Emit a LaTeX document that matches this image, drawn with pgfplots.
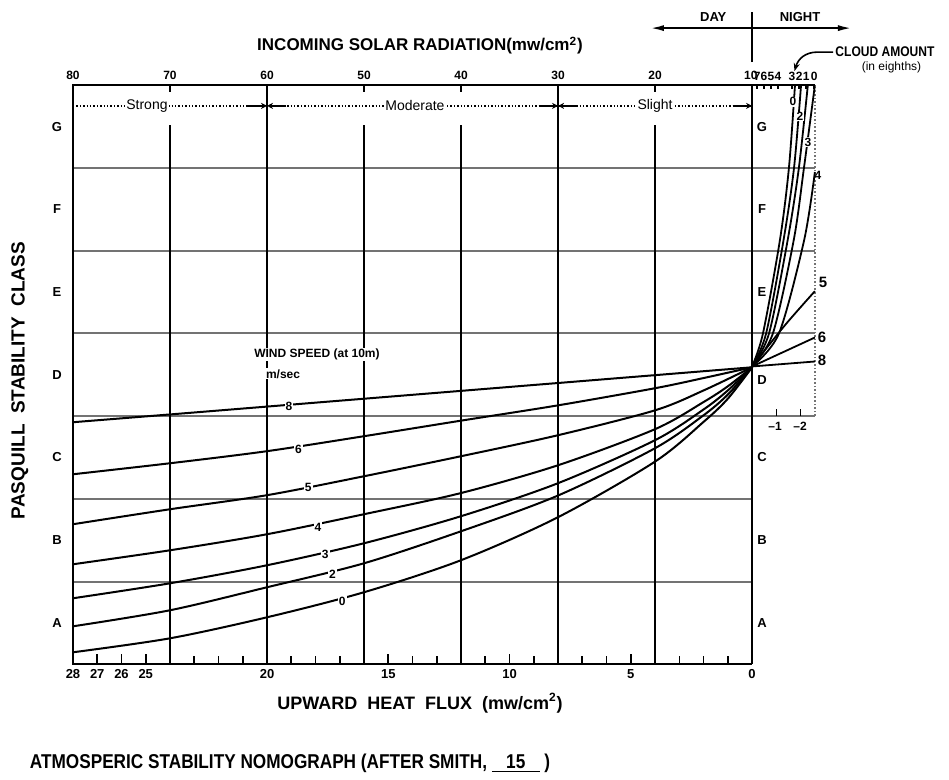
\documentclass[border=0pt]{standalone}
\usepackage{pgfplots}
\pgfplotsset{compat=1.18}
\usepackage{fontspec}
\setmainfont{Liberation Sans}
\newfontfamily\narrow[FakeStretch=0.86]{Liberation Sans}
\usetikzlibrary{arrows.meta}

\newcommand{\tk}{\fontsize{6}{7}\selectfont}
\newcommand{\cls}{\fontsize{6.5}{7}\selectfont\bfseries}

\begin{document}
\begin{tikzpicture}
\begin{axis}[
  scale only axis, width=371pt, height=289.5pt,
  xmin=-2.6, xmax=28, ymin=0, ymax=7, x dir=reverse,
  axis line style={draw=none},
  xtick={0,5,10,15,20,25,26,27,28},
  minor xtick={1,2,3,4,6,7,8,9,11,12,13,14,16,17,18,19,21,22,23,24},
  xtick pos=left, xtick align=inside,
  major tick length=5pt, minor tick length=4pt,
  tick style={black, line width=0.8pt},
  ytick=\empty,
  xticklabel style={font=\fontsize{6.5}{7}\selectfont\bfseries, yshift=1pt},
  /pgf/number format/assume math mode=true,
  clip=false,
]
% page size
\path (axis cs:31.01,-1.33) rectangle (axis cs:-8.12,8.03);

% class boundaries
\pgfplotsinvokeforeach{1,2}{\draw[black!55, line width=1pt] (axis cs:28,#1) -- (axis cs:0,#1);}
\pgfplotsinvokeforeach{3,4,5,6}{\draw[black!55, line width=1pt] (axis cs:28,#1) -- (axis cs:-2.6,#1);}

% frame
\draw[line width=1.1pt] (axis cs:-2.6,7) -- (axis cs:28,7) -- (axis cs:28,0) -- (axis cs:0,0);
\draw[line width=1.3pt] (axis cs:0,0) -- (axis cs:0,7);
\draw[line width=1.3pt] (axis cs:0,7.28) -- (axis cs:0,7.88);
\draw[black!55, densely dotted, line width=0.8pt] (axis cs:-2.6,3) -- (axis cs:-2.6,7);

% solar radiation grid
\pgfplotsinvokeforeach{24,16,12,4}{
  \draw[line width=1.2pt] (axis cs:#1,0) -- (axis cs:#1,6.52);
  \draw[line width=1pt] (axis cs:#1,7) -- (axis cs:#1,6.92);}
\pgfplotsinvokeforeach{20,8}{\draw[line width=1.2pt] (axis cs:#1,0) -- (axis cs:#1,7);}

% top scale
\node[font=\tk\bfseries] at (axis cs:28,7.12) {80};
\node[font=\tk\bfseries] at (axis cs:24,7.12) {70};
\node[font=\tk\bfseries] at (axis cs:20,7.12) {60};
\node[font=\tk\bfseries] at (axis cs:16,7.12) {50};
\node[font=\tk\bfseries] at (axis cs:12,7.12) {40};
\node[font=\tk\bfseries] at (axis cs:8,7.12) {30};
\node[font=\tk\bfseries] at (axis cs:4,7.12) {20};
\node[font=\tk\bfseries, fill=white, inner sep=0.3pt] at (axis cs:0.05,7.12) {10};

% cloud amount scale
\pgfplotsinvokeforeach{-0.21,-0.49,-0.78,-1.07,-1.65,-1.94,-2.23,-2.56}{
  \draw[line width=0.9pt] (axis cs:#1,7) -- (axis cs:#1,6.95);}
\node[font=\tk\bfseries] at (axis cs:-0.21,7.11) {7};
\node[font=\tk\bfseries] at (axis cs:-0.49,7.11) {6};
\node[font=\tk\bfseries] at (axis cs:-0.78,7.11) {5};
\node[font=\tk\bfseries] at (axis cs:-1.07,7.11) {4};
\node[font=\tk\bfseries] at (axis cs:-1.65,7.11) {3};
\node[font=\tk\bfseries] at (axis cs:-1.94,7.11) {2};
\node[font=\tk\bfseries] at (axis cs:-2.23,7.11) {1};
\node[font=\tk\bfseries] at (axis cs:-2.56,7.11) {0};

% night heat flux ticks
\draw[line width=0.8pt] (axis cs:-1,3) -- (axis cs:-1,3.08);
\draw[line width=0.8pt] (axis cs:-2,3) -- (axis cs:-2,3.08);
\node[font=\tk\bfseries] at (axis cs:-0.95,2.88) {--1};
\node[font=\tk\bfseries] at (axis cs:-1.98,2.88) {--2};

% insolation classes
\draw[densely dotted, line width=0.7pt] (axis cs:28,6.75) -- (axis cs:0,6.75);
\draw[line width=0.7pt, -{Stealth[length=3pt,width=3pt]}] (axis cs:20.8,6.75) -- (axis cs:20,6.75);
\draw[line width=0.7pt, -{Stealth[length=3pt,width=3pt]}] (axis cs:19.2,6.75) -- (axis cs:20,6.75);
\draw[line width=0.7pt, -{Stealth[length=3pt,width=3pt]}] (axis cs:8.8,6.75) -- (axis cs:8,6.75);
\draw[line width=0.7pt, -{Stealth[length=3pt,width=3pt]}] (axis cs:7.2,6.75) -- (axis cs:8,6.75);
\draw[line width=0.7pt, -{Stealth[length=3pt,width=3pt]}] (axis cs:0.8,6.75) -- (axis cs:0,6.75);
\node[font=\fontsize{7}{8}\selectfont, fill=white, inner sep=0.6pt] at (axis cs:24.95,6.75) {Strong};
\node[font=\fontsize{7}{8}\selectfont, fill=white, inner sep=0.6pt] at (axis cs:13.9,6.75) {Moderate};
\node[font=\fontsize{7}{8}\selectfont, fill=white, inner sep=0.6pt] at (axis cs:4.0,6.75) {Slight};

% stability class letters
\node[font=\cls] at (axis cs:28.66,0.5) {A};
\node[font=\cls] at (axis cs:28.66,1.5) {B};
\node[font=\cls] at (axis cs:28.66,2.5) {C};
\node[font=\cls] at (axis cs:28.66,3.5) {D};
\node[font=\cls] at (axis cs:28.66,4.5) {E};
\node[font=\cls] at (axis cs:28.66,5.5) {F};
\node[font=\cls] at (axis cs:28.66,6.5) {G};
\node[font=\cls] at (axis cs:-0.41,0.5) {A};
\node[font=\cls] at (axis cs:-0.41,1.5) {B};
\node[font=\cls] at (axis cs:-0.41,2.5) {C};
\node[font=\cls] at (axis cs:-0.41,3.44) {D};
\node[font=\cls] at (axis cs:-0.41,4.5) {E};
\node[font=\cls] at (axis cs:-0.41,5.5) {F};
\node[font=\cls] at (axis cs:-0.41,6.5) {G};

% wind speed curves (day)
\addplot[black, line width=1pt, smooth] coordinates {(28,2.926)(24,3.02)(20,3.115)(16,3.21)(12,3.305)(8,3.40)(4,3.495)(0,3.59)};
\addplot[black, line width=1pt, smooth] coordinates {(28,2.297)(24,2.430)(20,2.576)(16,2.757)(12,2.945)(8,3.130)(4,3.337)(2,3.46)(0,3.59)};
\addplot[black, line width=1pt, smooth] coordinates {(28,1.693)(24,1.874)(20,2.044)(16,2.273)(12,2.515)(8,2.769)(4,3.070)(2,3.31)(0,3.59)};
\addplot[black, line width=1pt, smooth] coordinates {(28,1.209)(24,1.378)(20,1.572)(16,1.814)(12,2.070)(8,2.406)(4,2.842)(2,3.17)(1,3.36)(0,3.59)};
\addplot[black, line width=1pt, smooth] coordinates {(28,0.798)(24,0.979)(20,1.197)(16,1.463)(12,1.790)(8,2.189)(4,2.709)(2,3.08)(1,3.31)(0,3.59)};
\addplot[black, line width=1pt, smooth] coordinates {(28,0.459)(24,0.653)(20,0.931)(16,1.221)(12,1.608)(8,2.040)(4,2.612)(2,3.01)(1,3.26)(0,3.59)};
\addplot[black, line width=1pt, smooth] coordinates {(28,0.145)(24,0.314)(20,0.568)(16,0.871)(12,1.258)(8,1.778)(4,2.450)(2,2.93)(1,3.21)(0,3.59)};

% cloud amount curves (night)
\addplot[black, line width=0.9pt, smooth] coordinates {(0,3.6)(-0.45,4.0)(-1.15,5.13)(-1.52,6.0)(-1.77,7.0)};
\addplot[black, line width=0.9pt, smooth] coordinates {(0,3.6)(-0.58,4.0)(-1.30,5.13)(-1.73,6.0)(-2.02,7.0)};
\addplot[black, line width=0.9pt, smooth] coordinates {(0,3.6)(-0.70,4.0)(-1.47,5.13)(-1.93,6.0)(-2.30,7.0)};
\addplot[black, line width=0.9pt, smooth] coordinates {(0,3.6)(-0.86,4.0)(-1.72,5.13)(-2.14,6.0)(-2.59,7.0)};
\addplot[black, line width=0.9pt, smooth] coordinates {(0,3.6)(-1.11,4.0)(-2.15,5.13)(-2.59,5.95)};
\addplot[black, line width=0.9pt, smooth] coordinates {(0,3.6)(-1.36,4.1)(-2.59,4.51)};
\addplot[black, line width=0.9pt] coordinates {(0,3.6)(-2.59,3.95)};
\addplot[black, line width=0.9pt] coordinates {(0,3.6)(-2.59,3.66)};

% curve labels
\node[font=\tk\bfseries, fill=white, inner sep=0.5pt] at (axis cs:19.1,3.12) {8};
\node[font=\tk\bfseries, fill=white, inner sep=0.5pt] at (axis cs:18.7,2.60) {6};
\node[font=\tk\bfseries, fill=white, inner sep=0.5pt] at (axis cs:18.3,2.14) {5};
\node[font=\tk\bfseries, fill=white, inner sep=0.5pt] at (axis cs:17.9,1.66) {4};
\node[font=\tk\bfseries, fill=white, inner sep=0.5pt] at (axis cs:17.6,1.33) {3};
\node[font=\tk\bfseries, fill=white, inner sep=0.5pt] at (axis cs:17.3,1.09) {2};
\node[font=\tk\bfseries, fill=white, inner sep=0.5pt] at (axis cs:16.9,0.76) {0};
\node[font=\tk\bfseries, fill=white, inner sep=0.3pt] at (axis cs:-1.69,6.80) {0};
\node[font=\tk\bfseries, fill=white, inner sep=0.3pt] at (axis cs:-1.98,6.62) {2};
\node[font=\tk\bfseries, fill=white, inner sep=0.3pt] at (axis cs:-2.31,6.31) {3};
\node[font=\tk\bfseries] at (axis cs:-2.72,5.91) {4};
\node[font=\fontsize{7.5}{8}\selectfont\bfseries] at (axis cs:-2.93,4.62) {5};
\node[font=\fontsize{7.5}{8}\selectfont\bfseries] at (axis cs:-2.89,3.95) {6};
\node[font=\fontsize{7.5}{8}\selectfont\bfseries] at (axis cs:-2.89,3.68) {8};

\node[font=\fontsize{6}{7}\selectfont\bfseries, fill=white, inner sep=0.5pt] at (axis cs:17.94,3.74) {WIND SPEED (at 10m)};
\node[font=\fontsize{6}{7}\selectfont\bfseries, fill=white, inner sep=0.5pt] at (axis cs:19.34,3.51) {m/sec};

% day / night header
\draw[line width=1pt, {Latex[length=7pt,width=3pt]}-{Latex[length=7pt,width=3pt]}] (axis cs:4.21,7.69) -- (axis cs:-4.12,7.69);
\node[font=\fontsize{6.5}{7}\selectfont\bfseries] at (axis cs:1.6,7.82) {DAY};
\node[font=\fontsize{6.5}{7}\selectfont\bfseries] at (axis cs:-1.98,7.82) {NIGHT};
\node[font=\narrow\fontsize{7}{8}\selectfont\bfseries, anchor=west, inner sep=1pt] at (axis cs:-3.34,7.40) {CLOUD AMOUNT};
\node[font=\fontsize{6}{7}\selectfont] at (axis cs:-5.75,7.22) {(in eighths)};
\draw[line width=0.8pt, -{Stealth[length=4pt,width=3pt]}] (axis cs:-3.34,7.40) -- (axis cs:-2.7,7.40) .. controls (axis cs:-2.2,7.40) and (axis cs:-1.9,7.32) .. (axis cs:-1.75,7.17);

% axis titles
\node[font=\fontsize{8.5}{9}\selectfont\bfseries] at (axis cs:13.69,7.48) {INCOMING SOLAR RADIATION(mw/cm\textsuperscript{2})};
\node[font=\fontsize{9}{10}\selectfont\bfseries] at (axis cs:13.69,-0.47) {UPWARD\ \ HEAT\ \ FLUX\ \ (mw/cm\textsuperscript{2})};
\node[font=\fontsize{9.5}{10}\selectfont\bfseries, rotate=90] at (axis cs:30.19,3.43) {PASQUILL\ \ STABILITY\ \ CLASS};
\node[font=\narrow\fontsize{10}{11}\selectfont\bfseries] at (axis cs:19.05,-1.2) {ATMOSPERIC STABILITY NOMOGRAPH (AFTER SMITH, \underline{\ \ \ 15\ \ \ }\ )};
\end{axis}
\end{tikzpicture}
\end{document}
